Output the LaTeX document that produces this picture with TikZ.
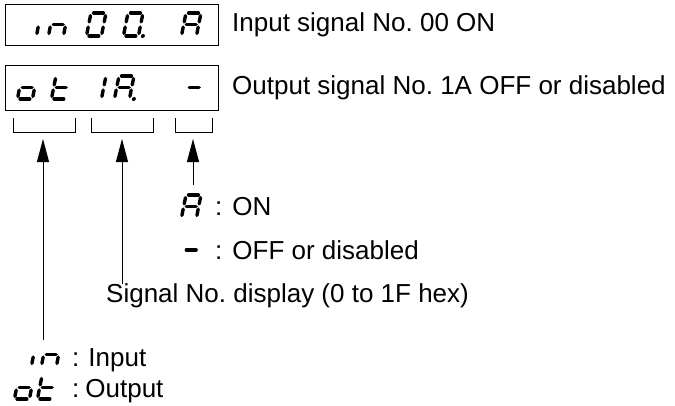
\documentclass[tikz,border=0pt]{standalone}
\usepackage{fontspec}
\setmainfont{Liberation Sans}
\usetikzlibrary{arrows.meta,positioning}
\frenchspacing

% seven-segment pieces, local units: cell 15 wide, 23 high, y downwards
\newcommand\sega{(2.6,0) -- (12.4,0)}
\newcommand\segb{(15,2.6) -- (15,8.9)}
\newcommand\segc{(15,14.1) -- (15,20.4)}
\newcommand\segd{(2.6,23) -- (12.4,23)}
\newcommand\sege{(0,14.1) -- (0,20.4)}
\newcommand\segf{(0,2.6) -- (0,8.9)}
\newcommand\segg{(2.6,11.5) -- (12.4,11.5)}
% \segchar{x}{y}{segments}
\newcommand\segchar[3]{%
  \begin{scope}[shift={(#1,#2)}, xslant=0.2]
    \foreach \s in {#3} {\draw[seg] \csname seg\s\endcsname;}
  \end{scope}}
\newcommand\segdot[2]{%
  \begin{scope}[shift={(#1,#2)}, xslant=0.2]
    \fill (19.5,23) circle (2pt);
  \end{scope}}

\begin{document}
\begin{tikzpicture}[x=1pt, y=-1pt,
  seg/.style={line width=3.4pt, line cap=round},
  display/.style={draw, line width=1.2pt, minimum width=213pt, inner sep=0pt, anchor=north west},
  bracket/.style={line width=1pt},
  pointer/.style={-{Triangle[length=23pt, width=12pt]}, line width=1pt},
  txt/.style={font=\fontsize{26}{30}\selectfont, anchor=west, inner sep=0pt}
]
  \useasboundingbox (0,0) rectangle (675,405);

  % Display 1: input signal
  \node[display, minimum height=41pt] (disp1) at (5,4) {};
  \segchar{41}{13}{e}
  \segchar{53}{13}{c,e,g}
  \segchar{91}{13}{a,b,c,d,e,f}
  \segchar{128}{13}{a,b,c,d,e,f}
  \segdot{128}{13}
  \segchar{186}{13}{a,b,c,e,f,g}
  \node[txt] (txt1) at (232,24.5) {Input signal No. 00 ON};

  % Display 2: output signal
  \node[display, minimum height=45pt] (disp2) at (5,65) {};
  \segchar{22}{76}{c,d,e,g}
  \segchar{56}{76}{d,e,f,g}
  \segchar{91}{76}{b,c}
  \segchar{119}{76}{a,b,c,e,f,g}
  \segdot{119}{76}
  \segchar{189}{76}{g}
  \node[txt] (txt2) at (232,87.5) {Output signal No. 1A OFF or disabled};

  % Brackets under the digit groups
  \draw[bracket] (13,118) |- (75,132) -- (75,118);
  \draw[bracket] (91,118) |- (153,132) -- (153,118);
  \draw[bracket] (175,118) |- (212,132) -- (212,118);
  \coordinate (brkkind) at (43,139);
  \coordinate (brkno) at (122,139);
  \coordinate (brkstate) at (193,139);

  % State legend
  \segchar{186}{195}{a,b,c,e,f,g}
  \coordinate (stateend) at (193,185);
  \node[txt] (lblon) at (215,207) {:\hspace{10pt}ON};
  \segchar{186}{238.5}{g}
  \node[txt] (lbloff) at (215,250) {:\hspace{10pt}OFF or disabled};

  % Signal number legend
  \node[txt] (lblno) at (106,296) {Signal No. display (0 to 1F hex)};
  \coordinate (noend) at (122,284);

  % Kind legend
  \coordinate (kindend) at (43,340);
  \segchar{36}{343}{e}
  \segchar{46}{343}{c,e,g}
  \node[txt] (lblin) at (72,360) {:\hspace{9pt}Input};
  \segchar{19}{376}{c,d,e,g}
  \segchar{42}{376}{d,e,f,g}
  \node[txt] (lblout) at (72,391) {:\hspace{6pt}Output};

  \draw[pointer] (stateend) -- (brkstate);
  \draw[pointer] (noend) -- (brkno);
  \draw[pointer] (kindend) -- (brkkind);
\end{tikzpicture}
\end{document}
